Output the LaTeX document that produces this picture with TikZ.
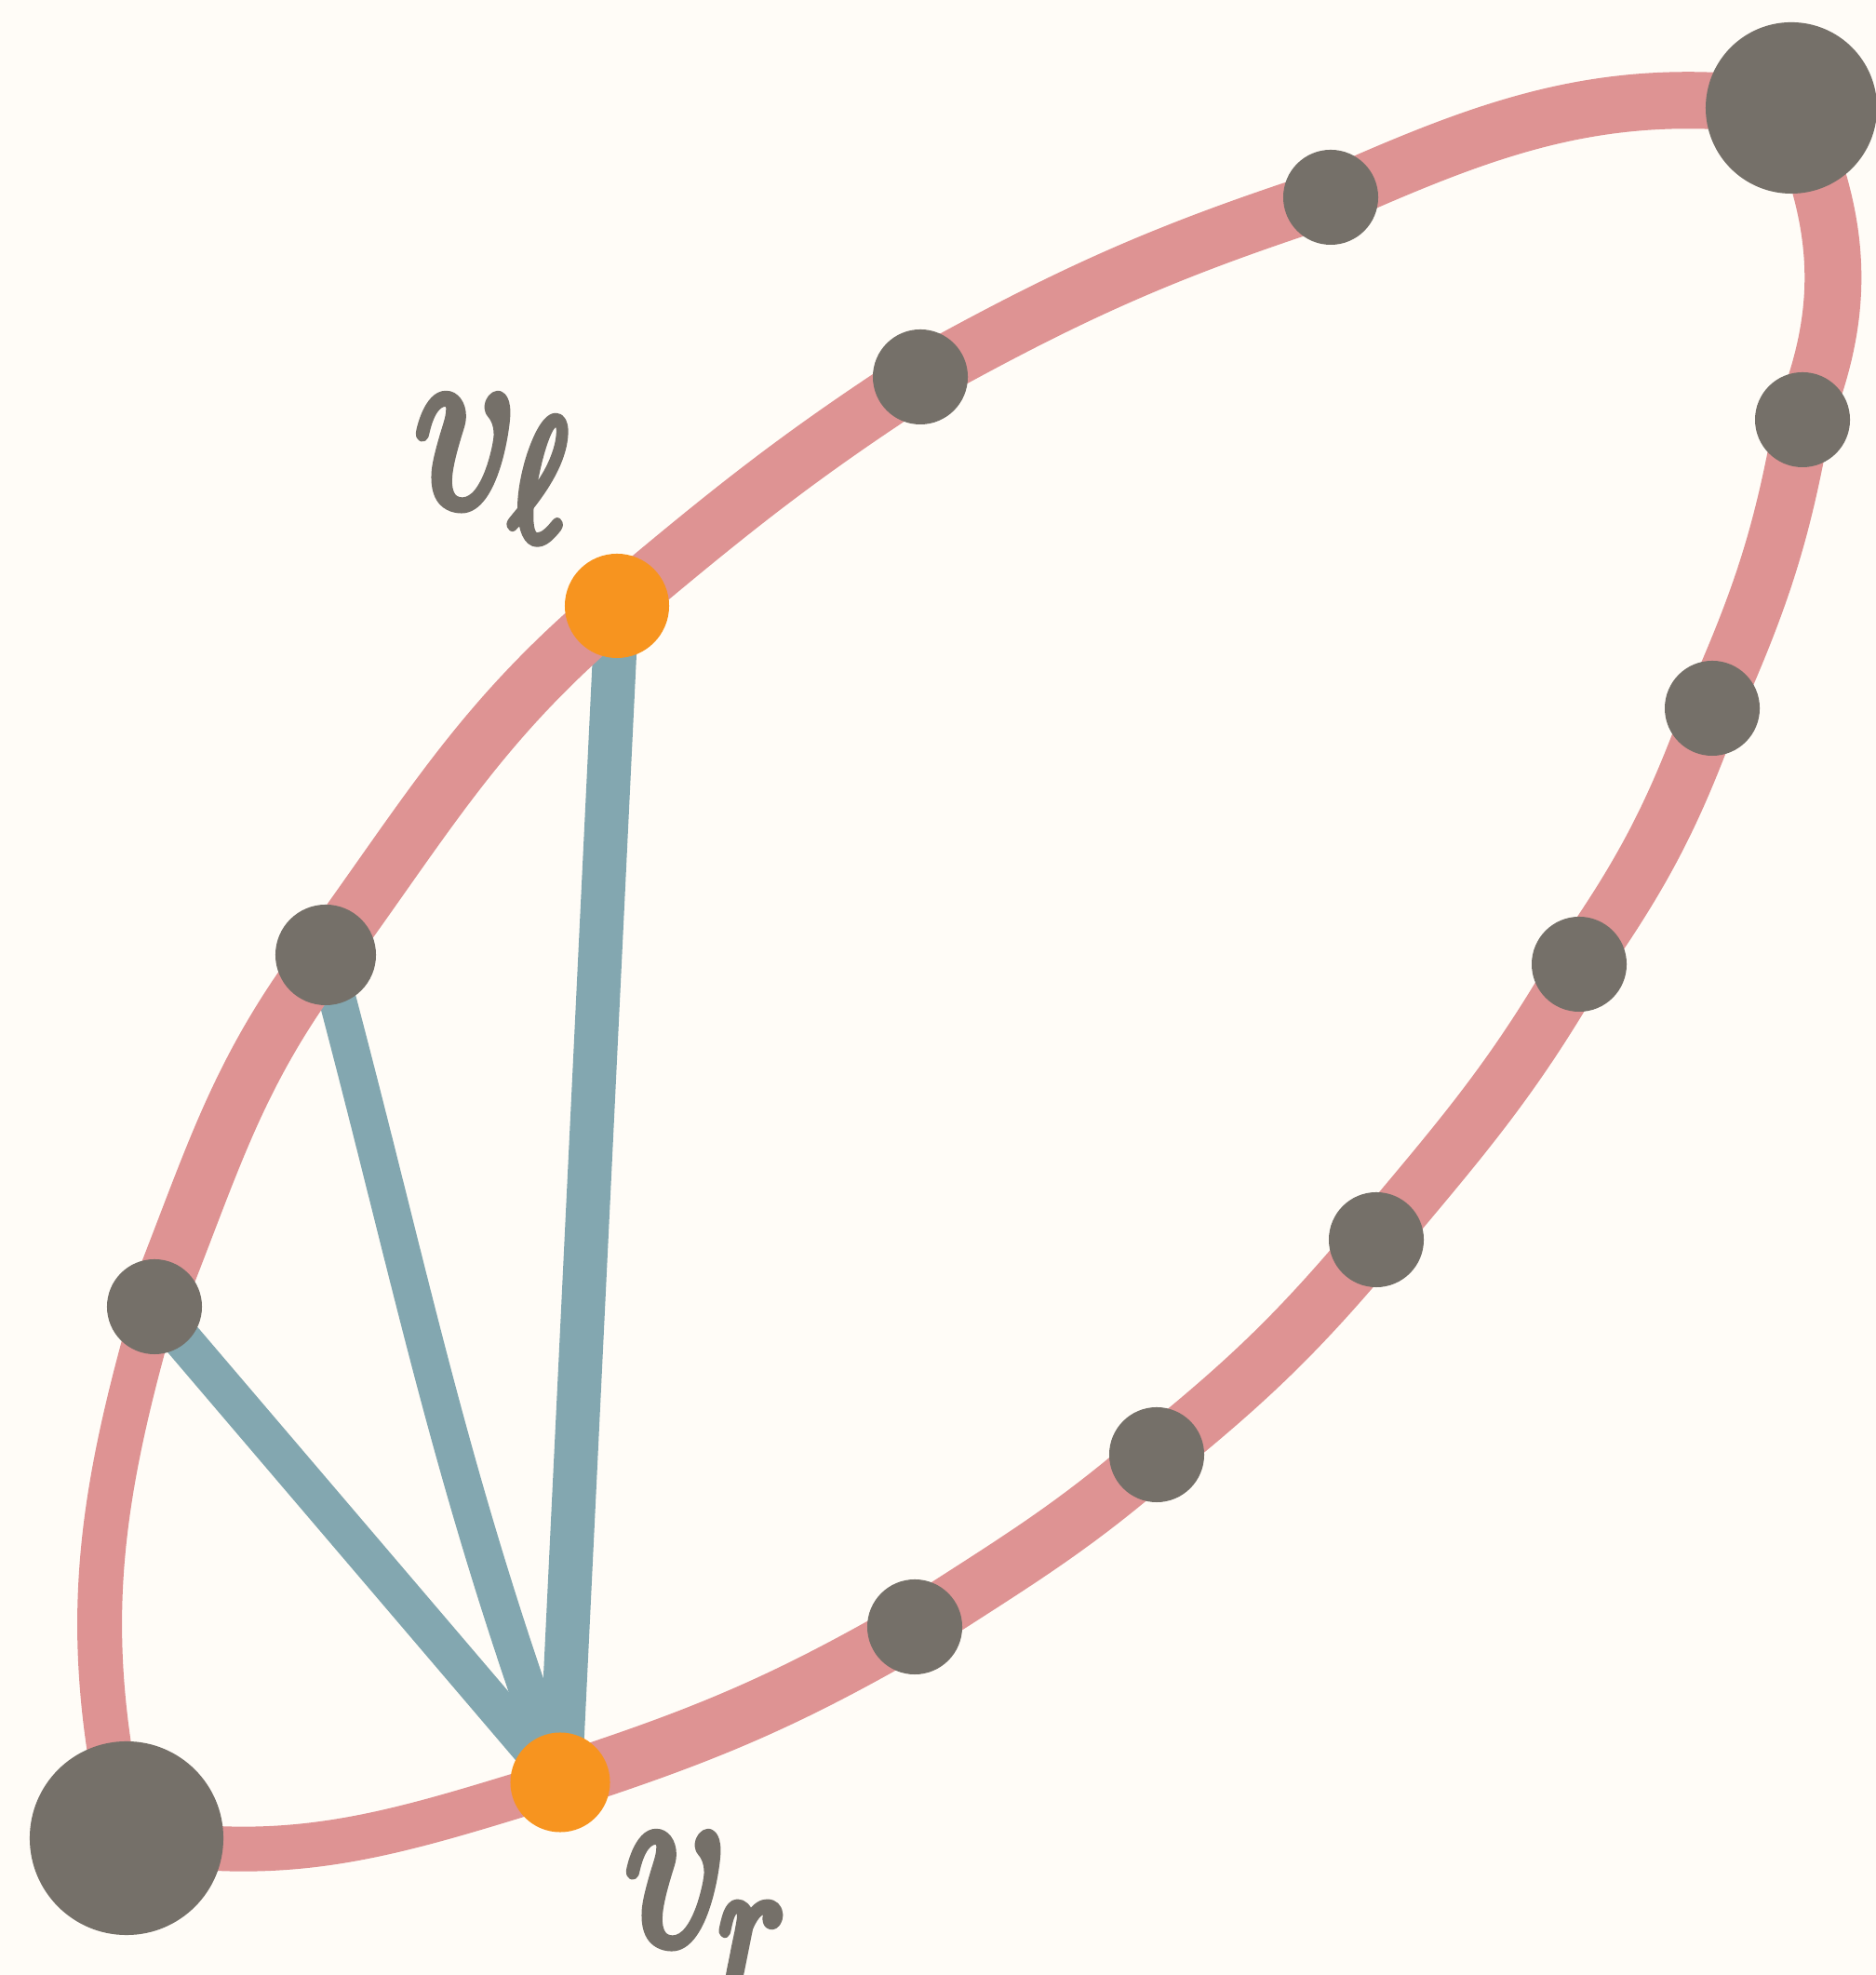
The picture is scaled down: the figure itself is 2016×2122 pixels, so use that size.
\documentclass[tikz,border=0pt]{standalone}
\DeclareMathSizes{24.88}{24.88}{17.28}{12}
\definecolor{bgc}{HTML}{FFFCF7}
\definecolor{pinkc}{HTML}{DE9393}
\definecolor{bluec}{HTML}{83A7B0}
\definecolor{grayc}{HTML}{757069}
\definecolor{orangec}{HTML}{F7941F}
\newcommand{\heavytext}[1]{\special{pdf:literal direct 2 Tr 1.1 w 1 j 0.459 0.439 0.412 RG}#1\special{pdf:literal direct 0 Tr}}
\pgfdeclarelayer{back}
\pgfdeclarelayer{edges}
\pgfsetlayers{back,edges,main}
\begin{document}
\begin{tikzpicture}[x=0.01cm,y=0.01cm,
  gnode/.style={circle,fill=grayc,inner sep=0pt,minimum size=1.02cm},
  onode/.style={circle,fill=orangec,inner sep=0pt,minimum size=1.1cm},
  bignode/.style={circle,fill=grayc,inner sep=0pt},
  pedge/.style={draw=pinkc,line width=0.61cm,line cap=round},
  pthin/.style={pedge,line width=0.48cm},
  bedge/.style={draw=bluec,line width=0.42cm,line cap=round},
  lbl/.style={text=grayc,inner sep=0pt,anchor=base west,xscale=2.45,yscale=3.04,font=\fontsize{24.88}{30}\selectfont}
]
\useasboundingbox (0,0) rectangle (2016,2122);
\begin{pgfonlayer}{back}
\fill[bgc] (0,0) rectangle (2016,2122);
\end{pgfonlayer}

% nodes
\node[bignode,minimum size=2.08cm] (bl) at (136,147) {};
\node[bignode,minimum size=1.84cm] (tr) at (1925,2006) {};
\node[gnode] (n1) at (1430,1910) {};
\node[gnode] (n2) at (989,1717) {};
\node[gnode] (n3) at (1937,1671) {};
\node[gnode] (n4) at (1840,1361) {};
\node[gnode] (n5) at (1697,1086) {};
\node[gnode,minimum size=1.08cm] (n6) at (350,1096) {};
\node[gnode] (n7) at (166,718) {};
\node[gnode] (n8) at (1479,790) {};
\node[gnode] (n9) at (1243,559) {};
\node[gnode] (n10) at (983,374) {};
\node[onode,minimum size=1.12cm] (vl) at (663,1471) {};
\node[onode,minimum size=1.07cm] (vr) at (602,207) {};

% labels
\node[lbl] (lvl) at (444,1579) {\heavytext{$v_{\raisebox{0.8pt}{$\scriptstyle\ell$}}$}};
\node[lbl] (lvr) at (670,34) {\heavytext{$v_{r}$}};

\begin{pgfonlayer}{edges}
% blue chords
\draw[bedge,line width=0.47cm] (vl.center) -- (vr.center);
\draw[bedge,line width=0.40cm] (n6.center) to[out=-75,in=110] (vr.center);
\draw[bedge] (n7.center) -- (vr.center);
% pink outer cycle
\draw[pthin] (bl.center) to[out=103,in=-106] (n7.center);
\draw[pedge] (n7.center) to[out=68,in=-127] (n6.center);
\draw[pedge] (n6.center) to[out=54,in=-140] (vl.center);
\draw[pedge] (vl.center) to[out=40,in=-147] (n2.center);
\draw[pedge] (n2.center) to[out=29,in=-162] (n1.center);
\draw[pedge] (n1.center) to[out=24,in=172] (tr.center);
\draw[pedge] (tr.center) to[out=-66,in=68] (n3.center);
\draw[pedge] (n3.center) to[out=-100,in=66] (n4.center);
\draw[pedge] (n4.center) to[out=-110,in=55] (n5.center);
\draw[pedge] (n5.center) to[out=-120,in=50] (n8.center);
\draw[pedge] (n8.center) to[out=-130,in=39] (n9.center);
\draw[pedge] (n9.center) to[out=-139,in=33] (n10.center);
\draw[pedge] (n10.center) to[out=-150,in=18] (vr.center);
\draw[pthin] (vr.center) to[out=-163,in=-10] (bl.center);
\end{pgfonlayer}
\end{tikzpicture}
\end{document}
